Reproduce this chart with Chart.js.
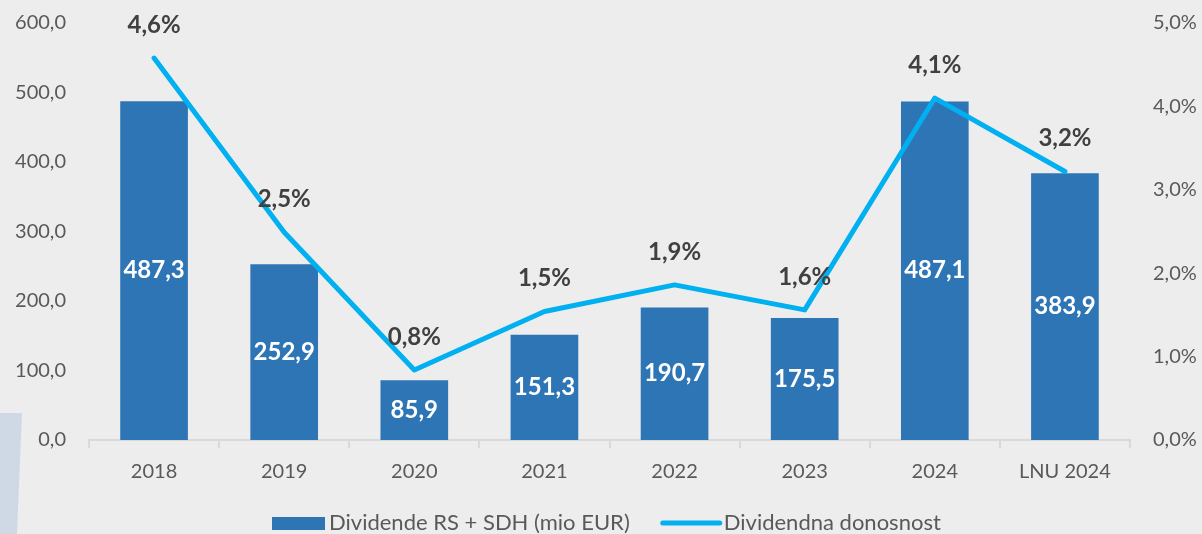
<!DOCTYPE html>
<html>
<head>
<meta charset="utf-8">
<script src="https://cdn.jsdelivr.net/npm/chart.js@4/dist/chart.umd.min.js"></script>
<style>
  html, body { margin: 0; padding: 0; background: #EDEDED; }
  #wrap { position: relative; width: 1202px; height: 534px; overflow: hidden; }
  #deco { position: absolute; left: 0; top: 413px; width: 22px; height: 121px; background: #CED9E5;
          clip-path: polygon(0 0, 100% 0, 77% 100%, 0 100%); }
  canvas { position: absolute; left: 0; top: 0; }
</style>
</head>
<body>
<div id="wrap">
  <div id="deco"></div>
  <canvas id="divChart" width="1202" height="534"></canvas>
</div>
<script>
// podatki
const categories = ['2018', '2019', '2020', '2021', '2022', '2023', '2024', 'LNU 2024'];
const dividends = [487.3, 252.9, 85.9, 151.3, 190.7, 175.5, 487.1, 383.9];
const yieldPct = [4.58, 2.49, 0.84, 1.54, 1.86, 1.56, 4.10, 3.22];
const leftTicks = [0, 100, 200, 300, 400, 500, 600];
const rightTicks = [0, 1, 2, 3, 4, 5];

const FONT = "Lato, 'Open Sans', sans-serif";
const comma = (v, d) => v.toFixed(d).replace('.', ',');

// napisi na stolpcih in na crti
const valueLabels = {
    id: 'valueLabels',
    afterDatasetsDraw(chart) {
        const ctx = chart.ctx;
        ctx.save();
        ctx.textAlign = 'center';
        ctx.textBaseline = 'middle';
        ctx.font = 'bold 24px ' + FONT;

        chart.getDatasetMeta(0).data.forEach((el, i) => {
            ctx.fillStyle = '#FFFFFF';
            ctx.fillText(comma(dividends[i], 1), el.x, (el.y + el.base) / 2);
        });
        chart.getDatasetMeta(1).data.forEach((pt, i) => {
            ctx.fillStyle = '#404040';
            ctx.fillText(comma(yieldPct[i], 1) + '%', pt.x, pt.y - 33);
        });
        ctx.restore();
    }
};

// legenda spodaj
const bottomLegend = {
    id: 'bottomLegend',
    afterDraw(chart) {
        const ctx = chart.ctx;
        const ds = chart.data.datasets;
        const y = 523;
        ctx.save();
        ctx.font = '22px ' + FONT;
        ctx.textBaseline = 'middle';

        let x = 272;
        ctx.fillStyle = ds[0].backgroundColor;
        ctx.fillRect(x, y - 6, 53, 13);
        x += 57;
        ctx.fillStyle = '#595959';
        ctx.fillText(ds[0].label, x, y);
        x += ctx.measureText(ds[0].label).width + 31;

        ctx.strokeStyle = ds[1].borderColor;
        ctx.lineWidth = 5;
        ctx.lineCap = 'round';
        ctx.beginPath();
        ctx.moveTo(x + 2, y);
        ctx.lineTo(x + 59, y);
        ctx.stroke();
        x += 63;
        ctx.fillText(ds[1].label, x, y);
        ctx.restore();
    }
};

// tick padding in Chart.js also pushes the plot top down, so reset it here
const fitY = w => s => { s.width = w; s.paddingTop = 23; s.paddingBottom = 12; };

new Chart(document.getElementById('divChart'), {
    type: 'bar',
    data: {
        labels: categories,
        datasets: [{
            type: 'bar',
            label: 'Dividende RS + SDH (mio EUR)',
            data: dividends,
            backgroundColor: '#2E75B6',
            categoryPercentage: 1,
            barPercentage: 0.52,
            yAxisID: 'y',
            order: 2
        }, {
            type: 'line',
            label: 'Dividendna donosnost',
            data: yieldPct,
            borderColor: '#00B0F0',
            backgroundColor: '#00B0F0',
            borderWidth: 5,
            borderCapStyle: 'round',
            borderJoinStyle: 'round',
            pointRadius: 0,
            fill: false,
            tension: 0,
            yAxisID: 'y1',
            order: 1
        }]
    },
    options: {
        responsive: false,
        animation: false,
        layout: { padding: { top: 23, bottom: 0, left: 0, right: 0 } },
        plugins: { legend: { display: false }, tooltip: { enabled: false } },
        scales: {
            x: {
                offset: true,
                grid: { offset: true, drawOnChartArea: false, drawTicks: true, tickLength: 8, color: '#D9D9D9', lineWidth: 2 },
                border: { display: true, color: '#D9D9D9', width: 2 },
                ticks: { color: '#595959', font: { family: FONT, size: 20 }, padding: 12, maxRotation: 0 },
                afterFit: s => { s.height = 94; }
            },
            y: {
                position: 'left',
                min: 0, max: 600,
                afterBuildTicks: s => { s.ticks = leftTicks.map(v => ({ value: v })); },
                grid: { display: false, drawTicks: false, tickLength: 0 },
                border: { display: false },
                ticks: { color: '#595959', font: { family: FONT, size: 20 }, padding: 23, callback: v => comma(v, 1) },
                afterFit: fitY(89)
            },
            y1: {
                position: 'right',
                min: 0, max: 5,
                afterBuildTicks: s => { s.ticks = rightTicks.map(v => ({ value: v })); },
                grid: { display: false, drawTicks: false, tickLength: 0 },
                border: { display: false },
                ticks: { color: '#595959', font: { family: FONT, size: 20 }, padding: 23, callback: v => comma(v, 1) + '%' },
                afterFit: fitY(72)
            }
        }
    },
    plugins: [valueLabels, bottomLegend]
});
</script>
</body>
</html>
